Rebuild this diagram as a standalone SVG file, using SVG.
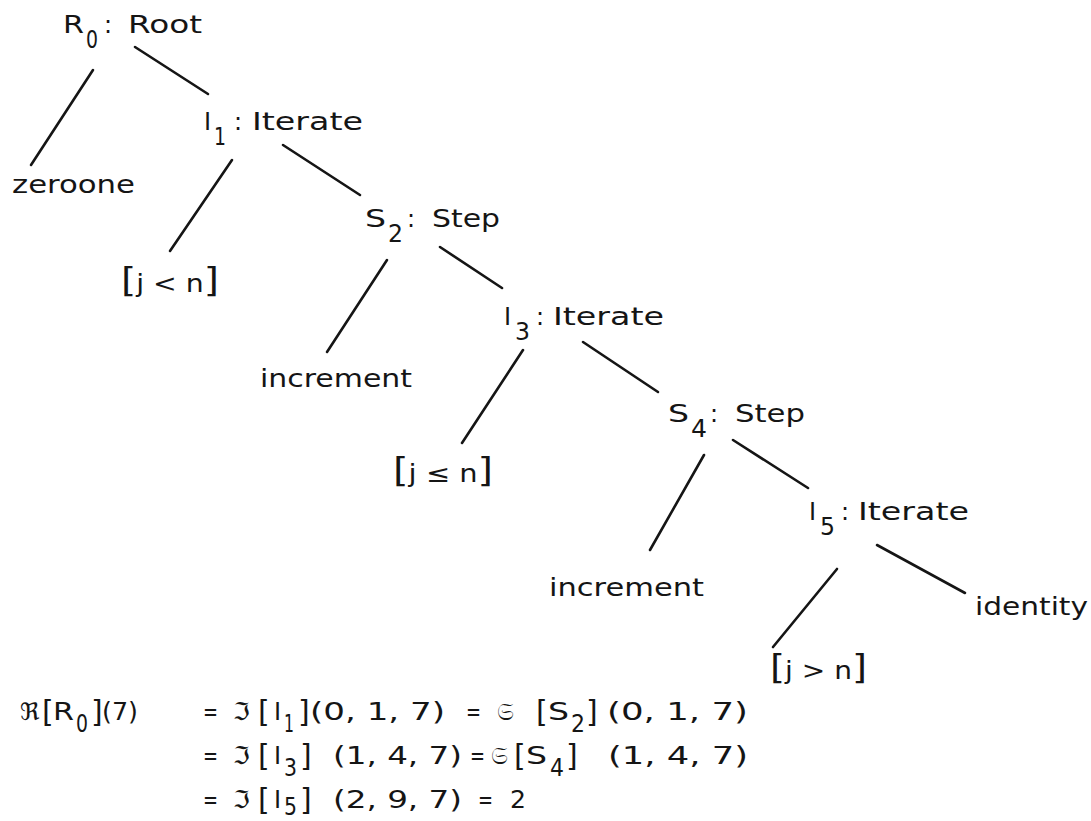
<svg xmlns="http://www.w3.org/2000/svg" width="1091" height="821" viewBox="0 0 1091 821">
<style>
text{font-family:"DejaVu Sans","Liberation Sans",sans-serif;font-size:24px;fill:#151515}
.br{font-size:33px}
.eb{font-size:30px}
.edge{stroke:#151515;stroke-width:2.6;stroke-linecap:round;fill:none}
</style>
<rect width="1091" height="821" fill="#ffffff"/>
<g id="connectors">
<line class="edge" x1="93" y1="70" x2="31" y2="165"/>
<line class="edge" x1="135" y1="47" x2="208" y2="94"/>
<line class="edge" x1="232" y1="160" x2="170" y2="251"/>
<line class="edge" x1="283" y1="145" x2="360" y2="195"/>
<line class="edge" x1="387" y1="260" x2="327" y2="352"/>
<line class="edge" x1="440" y1="247" x2="502" y2="288"/>
<line class="edge" x1="523" y1="350" x2="462" y2="443"/>
<line class="edge" x1="583" y1="342" x2="658" y2="392"/>
<line class="edge" x1="704" y1="455" x2="650" y2="550"/>
<line class="edge" x1="733" y1="440" x2="808" y2="488"/>
<line class="edge" x1="837" y1="569" x2="773" y2="647"/>
<line class="edge" x1="877" y1="545" x2="965" y2="593"/>
</g>
<g id="R0">
<text x="63" y="33" textLength="21" lengthAdjust="spacingAndGlyphs">R</text>
<text x="86" y="48" textLength="12" lengthAdjust="spacingAndGlyphs">0</text>
<text x="104" y="33">:</text>
<text x="128" y="33" textLength="74" lengthAdjust="spacingAndGlyphs">Root</text>
</g>
<g id="zeroone"><text x="12" y="193" textLength="123" lengthAdjust="spacingAndGlyphs">zeroone</text></g>
<g id="I1">
<text x="204" y="130">I</text>
<text x="214" y="145" textLength="12" lengthAdjust="spacingAndGlyphs">1</text>
<text x="234" y="130">:</text>
<text x="252" y="130" textLength="111" lengthAdjust="spacingAndGlyphs">Iterate</text>
</g>
<g id="cond1"><text x="121" y="292" textLength="98" lengthAdjust="spacingAndGlyphs"><tspan class="br">[</tspan>j &lt; n<tspan class="br">]</tspan></text></g>
<g id="S2">
<text x="365" y="227" textLength="21" lengthAdjust="spacingAndGlyphs">S</text>
<text x="388" y="242" textLength="15" lengthAdjust="spacingAndGlyphs">2</text>
<text x="407" y="227">:</text>
<text x="432" y="227" textLength="68" lengthAdjust="spacingAndGlyphs">Step</text>
</g>
<g id="inc1"><text x="260" y="387" textLength="152" lengthAdjust="spacingAndGlyphs">increment</text></g>
<g id="I3">
<text x="504" y="325">I</text>
<text x="515" y="340" textLength="15" lengthAdjust="spacingAndGlyphs">3</text>
<text x="536" y="325">:</text>
<text x="553" y="325" textLength="111" lengthAdjust="spacingAndGlyphs">Iterate</text>
</g>
<g id="cond2"><text x="393" y="482" textLength="100" lengthAdjust="spacingAndGlyphs"><tspan class="br">[</tspan>j ≤ n<tspan class="br">]</tspan></text></g>
<g id="S4">
<text x="668" y="422" textLength="21" lengthAdjust="spacingAndGlyphs">S</text>
<text x="691" y="437" textLength="16" lengthAdjust="spacingAndGlyphs">4</text>
<text x="710" y="422">:</text>
<text x="735" y="422" textLength="70" lengthAdjust="spacingAndGlyphs">Step</text>
</g>
<g id="inc2"><text x="549" y="596" textLength="155" lengthAdjust="spacingAndGlyphs">increment</text></g>
<g id="I5">
<text x="809" y="520">I</text>
<text x="820" y="535" textLength="15" lengthAdjust="spacingAndGlyphs">5</text>
<text x="841" y="520">:</text>
<text x="858" y="520" textLength="111" lengthAdjust="spacingAndGlyphs">Iterate</text>
</g>
<g id="identity"><text x="975" y="615" textLength="113" lengthAdjust="spacingAndGlyphs">identity</text></g>
<g id="cond3"><text x="770" y="679" textLength="97" lengthAdjust="spacingAndGlyphs"><tspan class="br">[</tspan>j &gt; n<tspan class="br">]</tspan></text></g>
<g id="equation">
<text x="20" y="720">ℜ</text>
<text x="42" y="722" class="eb">[</text>
<text x="53" y="720" textLength="21" lengthAdjust="spacingAndGlyphs">R</text>
<text x="76" y="732" textLength="12" lengthAdjust="spacingAndGlyphs">0</text>
<text x="91" y="722" class="eb">]</text>
<text x="102" y="720" textLength="36" lengthAdjust="spacingAndGlyphs">(7)</text>
<text x="203" y="720" textLength="15" lengthAdjust="spacingAndGlyphs">=</text>
<text x="233" y="720">ℑ</text>
<text x="258" y="722" class="eb">[</text>
<text x="274" y="720">I</text>
<text x="284" y="732" textLength="10" lengthAdjust="spacingAndGlyphs">1</text>
<text x="298" y="722" class="eb">]</text>
<text x="310" y="720" textLength="135" lengthAdjust="spacingAndGlyphs">(0, 1, 7)</text>
<text x="466" y="720" textLength="15" lengthAdjust="spacingAndGlyphs">=</text>
<text x="497" y="720">𝔖</text>
<text x="536" y="722" class="eb">[</text>
<text x="548" y="720" textLength="21" lengthAdjust="spacingAndGlyphs">S</text>
<text x="571" y="732" textLength="14" lengthAdjust="spacingAndGlyphs">2</text>
<text x="586" y="722" class="eb">]</text>
<text x="607" y="720" textLength="141" lengthAdjust="spacingAndGlyphs">(0, 1, 7)</text>
<text x="203" y="764" textLength="15" lengthAdjust="spacingAndGlyphs">=</text>
<text x="233" y="764">ℑ</text>
<text x="258" y="766" class="eb">[</text>
<text x="274" y="764">I</text>
<text x="284" y="776" textLength="13" lengthAdjust="spacingAndGlyphs">3</text>
<text x="300" y="766" class="eb">]</text>
<text x="333" y="764" textLength="129" lengthAdjust="spacingAndGlyphs">(1, 4, 7)</text>
<text x="470" y="764" textLength="15" lengthAdjust="spacingAndGlyphs">=</text>
<text x="491" y="764">𝔖</text>
<text x="514" y="766" class="eb">[</text>
<text x="526" y="764" textLength="21" lengthAdjust="spacingAndGlyphs">S</text>
<text x="550" y="776" textLength="14" lengthAdjust="spacingAndGlyphs">4</text>
<text x="566" y="766" class="eb">]</text>
<text x="608" y="764" textLength="140" lengthAdjust="spacingAndGlyphs">(1, 4, 7)</text>
<text x="203" y="808" textLength="15" lengthAdjust="spacingAndGlyphs">=</text>
<text x="233" y="808">ℑ</text>
<text x="258" y="810" class="eb">[</text>
<text x="274" y="808">I</text>
<text x="284" y="815" textLength="13" lengthAdjust="spacingAndGlyphs">5</text>
<text x="300" y="810" class="eb">]</text>
<text x="333" y="808" textLength="129" lengthAdjust="spacingAndGlyphs">(2, 9, 7)</text>
<text x="478" y="808" textLength="15" lengthAdjust="spacingAndGlyphs">=</text>
<text x="510" y="808" textLength="16" lengthAdjust="spacingAndGlyphs">2</text>
</g>
</svg>
